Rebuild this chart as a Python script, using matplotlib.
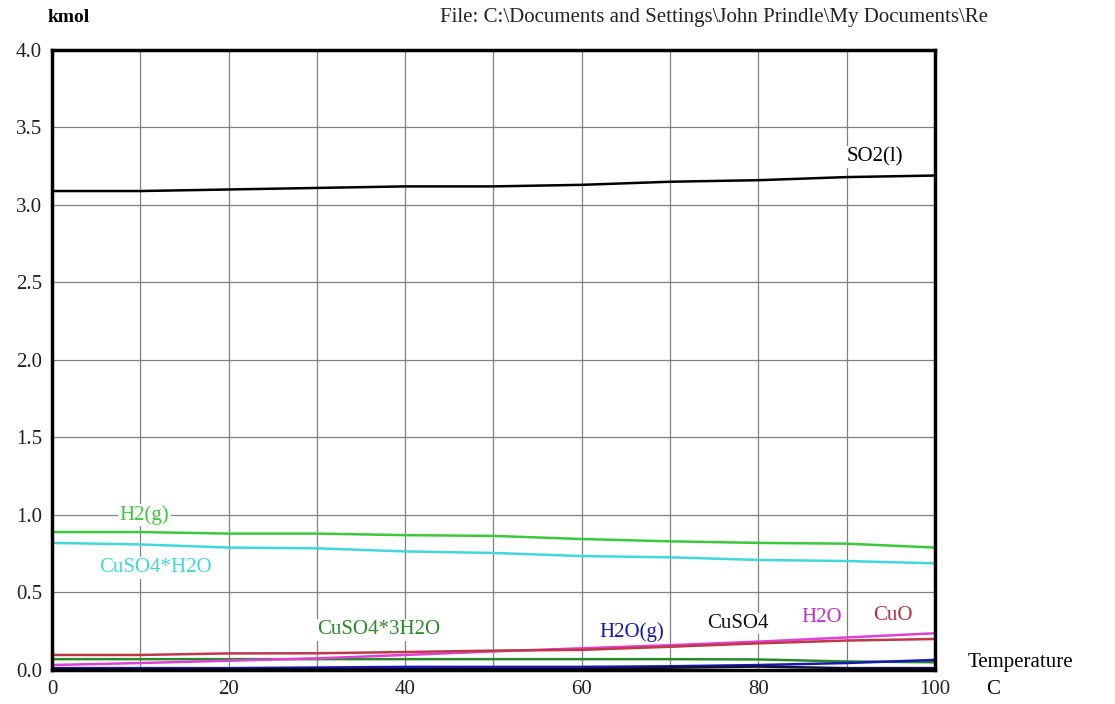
import numpy as np
import matplotlib.pyplot as plt

plt.rcParams['font.family'] = ['Liberation Serif', 'DejaVu Serif']

temp = [0, 10, 20, 30, 40, 50, 60, 70, 80, 90, 100]

so2_l = [3.09, 3.09, 3.10, 3.11, 3.12, 3.12, 3.13, 3.15, 3.16, 3.18, 3.19]
h2_g = [0.89, 0.89, 0.88, 0.88, 0.87, 0.865, 0.845, 0.83, 0.82, 0.815, 0.79]
cuso4_h2o = [0.82, 0.81, 0.79, 0.785, 0.765, 0.755, 0.735, 0.727, 0.71, 0.703, 0.688]
cuso4_3h2o = [0.07, 0.07, 0.07, 0.07, 0.07, 0.07, 0.07, 0.07, 0.068, 0.055, 0.05]
h2o_g = [0.012, 0.012, 0.012, 0.016, 0.02, 0.02, 0.02, 0.024, 0.032, 0.045, 0.065]
cuso4 = [0.004, 0.004, 0.004, 0.005, 0.005, 0.006, 0.006, 0.015, 0.022, 0.012, 0.012]
h2o = [0.032, 0.045, 0.06, 0.075, 0.097, 0.12, 0.14, 0.16, 0.183, 0.21, 0.237]
cuo = [0.097, 0.097, 0.107, 0.108, 0.116, 0.125, 0.13, 0.15, 0.172, 0.19, 0.20]

# data, line colour, label, label x, label y, label colour
series = [
    (so2_l, '#000000', 'SO2(l)', 93.2, 3.31, '#000000'),
    (h2_g, '#3cc83c', 'H2(g)', 10.5, 1.00, '#3cc83c'),
    (cuso4_h2o, '#40d8d8', 'CuSO4*H2O', 11.7, 0.66, '#40d8d8'),
    (cuso4_3h2o, '#2a8a2a', 'CuSO4*3H2O', 37, 0.26, '#2a8a2a'),
    (h2o_g, '#1818b0', 'H2O(g)', 65.7, 0.245, '#1818b0'),
    (cuso4, '#101038', 'CuSO4', 77.7, 0.30, '#101010'),
    (h2o, '#e040d8', 'H2O', 87.2, 0.34, '#c030c8'),
    (cuo, '#c03848', 'CuO', 95.2, 0.35, '#b03040'),
]

fig = plt.figure(figsize=(11.15, 7.04), dpi=100)
ax = fig.add_axes([0.0466, 0.0483, 0.792, 0.8807])

for vals, col, name, lx, ly, tcol in series:
    ax.plot(temp, vals, color=col, lw=1.8)
    ax.text(lx, ly, name, color=tcol, fontsize=15, ha='center', va='center',
            bbox=dict(facecolor='white', edgecolor='none', pad=1), zorder=5)

ax.set_xlim(0, 100)
ax.set_ylim(0, 4.0)
ax.set_xticks(np.arange(0, 101, 10))
ax.set_xticklabels([str(v) if v % 20 == 0 else '' for v in range(0, 101, 10)])
ax.set_yticks(np.arange(0, 4.01, 0.5))
ax.set_yticklabels(['%.1f' % v for v in np.arange(0, 4.01, 0.5)])
ax.tick_params(length=0, labelsize=15, pad=7, colors='#222222')
ax.grid(True, color='#808080', lw=0.9)
for s in ax.spines.values():
    s.set_linewidth(2.5)
    s.set_color('black')

fig.text(0.043, 0.975, 'kmol', fontsize=14, fontweight='bold', ha='left', va='center')
fig.text(0.395, 0.975, 'File: C:\\Documents and Settings\\John Prindle\\My Documents\\Re',
         fontsize=15, ha='left', va='center', color='#222222')
fig.text(0.868, 0.059, 'Temperature', fontsize=15, ha='left', va='center')
fig.text(0.884, 0.020, 'C', fontsize=15, ha='left', va='center')

fig.savefig('out.png', dpi=100)
